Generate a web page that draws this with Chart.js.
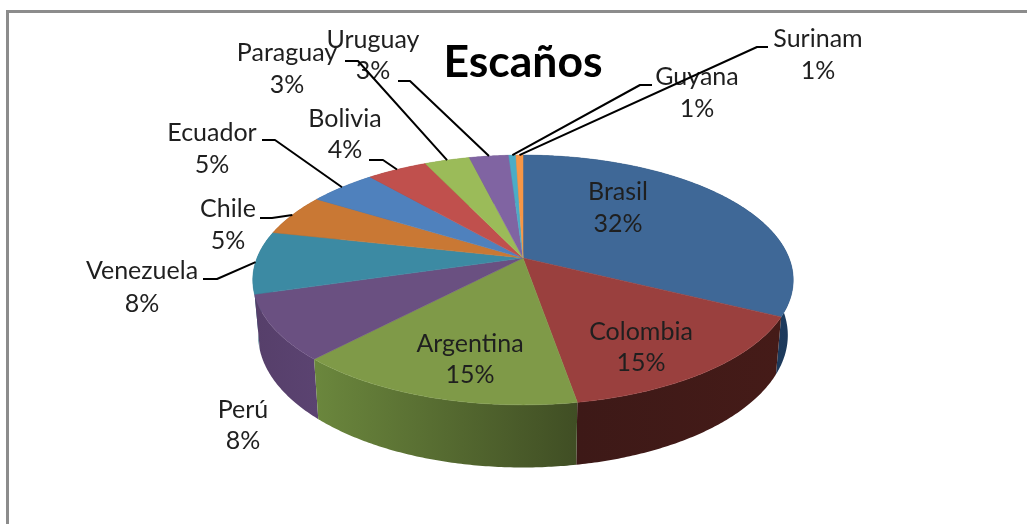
<!DOCTYPE html>
<html lang="es">
<head>
    <meta charset="UTF-8">
    <title>Escaños</title>
    <script src="https://cdnjs.cloudflare.com/ajax/libs/Chart.js/4.4.1/chart.umd.min.js"></script>
    <style>
        body { margin: 0; background: #fff; overflow: hidden; }
        #frame {
            position: absolute; left: 6px; top: 10px; right: 0; bottom: 0;
            border-top: 3px solid #8c8c8c; border-left: 3px solid #8c8c8c;
            pointer-events: none;
        }
        canvas { display: block; }
    </style>
</head>
<body>
    <canvas id="seatsChart" width="1027" height="524"></canvas>
    <div id="frame"></div>

    <script>
        const countries = ['Brasil', 'Colombia', 'Argentina', 'Perú', 'Venezuela', 'Chile', 'Ecuador', 'Bolivia', 'Paraguay', 'Uruguay', 'Guyana', 'Surinam'];
        const seatShare = [32.4, 14.9, 14.7, 8.4, 8.1, 5.4, 4.8, 4.3, 3.2, 2.8, 0.5, 0.5];
        const percentLabels = ['32%', '15%', '15%', '8%', '8%', '5%', '5%', '4%', '3%', '3%', '1%', '1%'];

        const topColors = ['#3f6897', '#9a403e', '#7f9a48', '#6a5081', '#3c8aa3', '#c97834', '#4f81bd', '#c0504d', '#9bbb59', '#8064a2', '#4bacc6', '#f79646'];
        // wall gradient, left colour then right colour
        const sideColors = [
            ['#17304f', '#1d3a5c'], ['#3d1917', '#451b18'], ['#6b873d', '#404e24'], ['#563f6a', '#5b4371'],
            ['#2f6b80', '#2f6b80'], ['#8a5224', '#8a5224'], ['#365a85', '#365a85'], ['#853735', '#853735'],
            ['#6c823e', '#6c823e'], ['#594671', '#594671'], ['#34788a', '#34788a'], ['#ac6830', '#ac6830']
        ];

        // label centres and leader elbows, one entry per country
        const labelCenters = [[618, 192, 224], [641, 332, 363], [470, 344, 375], [243, 410, 441], [142, 271, 304], [228, 209, 241],
            [212, 133, 165], [345, 119, 150], [287, 53, 85], [373, 40, 71], [697, 77, 109], [818, 39, 71]];
        const leaders = [null, null, null, null, [[203, 279], [217, 279]], [[260, 218], [272, 218]],
            [[262, 140], [275, 140]], [[369, 160], [383, 160]], [[345, 61], [358, 61]], [[398, 81], [410, 81]],
            [[652, 85], [640, 85]], [[768, 47], [757, 47]]];

        // pseudo 3D projection of the flat pie
        const tilt = 0.455, persp = 0.176, depth = 54, baseScale = 0.98;

        function project(arc, angle, drop) {
            const u = Math.cos(angle), v = Math.sin(angle);
            const w = 1 - persp * v;
            const s = drop ? baseScale : 1;
            const r = arc.outerRadius;
            return {
                x: arc.x + r * s * u / w,
                y: arc.y + r * tilt * s * v / w + (drop ? depth / w : 0)
            };
        }

        function rim(arc, from, to, drop) {
            const pts = [];
            const steps = Math.max(2, Math.ceil(Math.abs(to - from) / 0.01));
            for (let i = 0; i <= steps; i++) {
                pts.push(project(arc, from + (to - from) * i / steps, drop));
            }
            return pts;
        }

        const pie3d = {
            id: 'pie3d',
            beforeDatasetDraw(chart, args) {
                const ctx = chart.ctx;
                const arcs = args.meta.data;
                const order = arcs.map((a, i) => i)
                    .sort((a, b) => Math.sin((arcs[a].startAngle + arcs[a].endAngle) / 2) - Math.sin((arcs[b].startAngle + arcs[b].endAngle) / 2));

                order.forEach(i => {
                    const arc = arcs[i];
                    const pts = rim(arc, arc.startAngle, arc.endAngle, false)
                        .concat(rim(arc, arc.endAngle, arc.startAngle, true));
                    const xs = pts.map(p => p.x);
                    const grad = ctx.createLinearGradient(Math.min(...xs), 0, Math.max(...xs), 0);
                    grad.addColorStop(0, sideColors[i][0]);
                    grad.addColorStop(1, sideColors[i][1]);
                    ctx.beginPath();
                    pts.forEach((p, n) => n ? ctx.lineTo(p.x, p.y) : ctx.moveTo(p.x, p.y));
                    ctx.closePath();
                    ctx.fillStyle = grad;
                    ctx.fill();
                });

                arcs.forEach((arc, i) => {
                    const pts = rim(arc, arc.startAngle, arc.endAngle, false);
                    ctx.beginPath();
                    ctx.moveTo(arc.x, arc.y);
                    pts.forEach(p => ctx.lineTo(p.x, p.y));
                    ctx.closePath();
                    ctx.fillStyle = topColors[i];
                    ctx.strokeStyle = topColors[i];
                    ctx.lineWidth = 0.5;
                    ctx.fill();
                    ctx.stroke();
                });

                ctx.save();
                ctx.font = '25px Lato';
                ctx.fillStyle = '#1f1f1f';
                ctx.textAlign = 'center';
                ctx.textBaseline = 'middle';
                countries.forEach((name, i) => {
                    const c = labelCenters[i];
                    ctx.fillText(name, c[0], c[1]);
                    ctx.fillText(percentLabels[i], c[0], c[2]);
                });
                ctx.strokeStyle = '#000';
                ctx.lineWidth = 2;
                ctx.lineJoin = 'round';
                arcs.forEach((arc, i) => {
                    if (!leaders[i]) return;
                    const end = project(arc, (arc.startAngle + arc.endAngle) / 2, false);
                    ctx.beginPath();
                    ctx.moveTo(leaders[i][0][0], leaders[i][0][1]);
                    ctx.lineTo(leaders[i][1][0], leaders[i][1][1]);
                    ctx.lineTo(end.x, end.y);
                    ctx.stroke();
                });
                ctx.restore();
                return false;
            }
        };

        new Chart(document.getElementById('seatsChart'), {
            type: 'pie',
            data: {
                labels: countries,
                datasets: [{ data: seatShare, backgroundColor: topColors, radius: 266 }]
            },
            options: {
                responsive: false,
                animation: false,
                layout: { padding: { left: 19, top: 22, bottom: 97.4 } },
                plugins: {
                    legend: { display: false },
                    tooltip: { enabled: false },
                    title: {
                        display: true,
                        text: 'Escaños',
                        color: '#000',
                        font: { family: 'Lato', size: 44.5, weight: 'bold' },
                        padding: { top: 14, bottom: 0 }
                    }
                }
            },
            plugins: [pie3d]
        });
    </script>
</body>
</html>
